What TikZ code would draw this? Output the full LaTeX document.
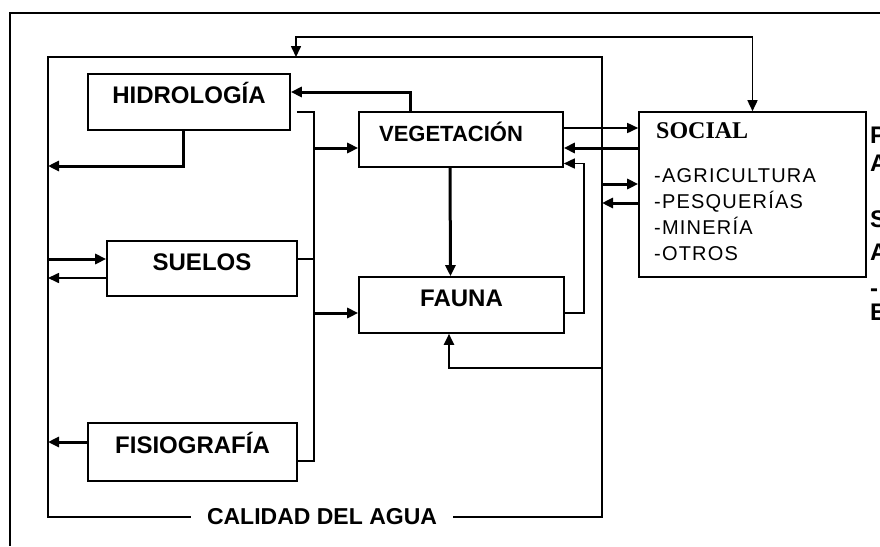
\documentclass[tikz,border=0pt]{standalone}
\usepackage{fontspec}
\setmainfont{Liberation Sans}
\newfontfamily\socfont{Liberation Serif}
\usetikzlibrary{arrows.meta}

\tikzset{
  >={Triangle[length=11pt,width=10pt]},
  box/.style={draw, line width=1.6pt, inner sep=0pt, text height=17pt, text depth=14pt,
    font=\bfseries\fontsize{24}{28}\selectfont},
  wire/.style={line width=1.6pt},
  link/.style={line width=1.6pt, ->},
  heavy/.style={line width=3pt, ->},
  cut/.style={anchor=base west, inner sep=0pt, font=\bfseries\fontsize{24}{28}\selectfont},
}

\begin{document}
\begin{tikzpicture}[x=1pt,y=-1pt] % water quality scheme

\useasboundingbox (0,0) rectangle (880,546);
\draw[line width=1.5pt] (880,13) -- (10,13) -- (10,546); % page frame

% blocks
\node[box, minimum width=202pt, minimum height=56pt] (hid) at (189,102) {HIDROLOGÍA};
\node[box, minimum width=190pt, minimum height=55pt] (sue) at (202,268.5) {SUELOS};
\node[box, minimum width=209pt, minimum height=58pt] (fis) at (192.5,452) {FISIOGRAFÍA};
\node[box, minimum width=204pt, minimum height=55pt, font=\bfseries\fontsize{22}{26}\selectfont] (veg) at (461,139.5) {VEGETACIÓN\hspace*{20pt}};
\node[box, minimum width=205pt, minimum height=56pt] (fau) at (461.5,305) {FAUNA};
\node[draw, line width=1.6pt, minimum width=227pt, minimum height=165pt] (soc) at (752.5,194.5) {};
\node[anchor=base west, inner sep=0pt, font=\socfont\bfseries\fontsize{24}{26}\selectfont] (socT) at (656,138) {SOCIAL};
\foreach \txt [count=\i] in {AGRICULTURA,PESQUERÍAS,MINERÍA,OTROS}
  \node[anchor=base west, inner sep=0pt, font=\addfontfeature{LetterSpace=6}\fontsize{20}{22}\selectfont] (soc\i) at (654,156+26*\i) {-\txt};

% water quality frame
\coordinate (fNW) at (48,57);
\coordinate (fNE) at (602,57);
\node[inner xsep=16pt, inner ysep=0pt, font=\bfseries\fontsize{23}{26}\selectfont] (cal) at (322,517) {CALIDAD DEL AGUA};
\draw[wire] (cal.west) -- (fNW |- cal.west) -- (fNW) -- (fNE) -- (fNE |- cal.east) -- (cal.east);

% links
\coordinate (ftop) at (296,57);
\draw[wire, <->] (ftop) -- ++(0,-20) -| (soc.north);
\draw[heavy] ([xshift=-51pt]veg.north) |- ([yshift=10pt]hid.east);
\coordinate (hL) at (48,166);
\draw[heavy] ([xshift=-6pt]hid.south) |- (hL);
\coordinate (busT) at (314,112);
\coordinate (busB) at (314,461);
\draw[wire] ([xshift=6pt,yshift=-10pt]hid.east) -- (busT) -- (busB) -- (busB -| fis.east);
\draw[wire] ([yshift=9.5pt]sue.east) -- ([yshift=9.5pt]sue.east -| busT);
\draw[heavy] ([yshift=-8.5pt]veg.west -| busT) -- ([yshift=-8.5pt]veg.west);
\draw[heavy] ([yshift=-8pt]fau.west -| busT) -- ([yshift=-8pt]fau.west);
\draw[heavy] ([yshift=9.5pt]sue.west -| fNW) -- ([yshift=9.5pt]sue.west);
\draw[link] ([yshift=-9.5pt]sue.west) -- ([yshift=-9.5pt]sue.west -| fNW);
\draw[heavy] ([yshift=10pt]fis.west) -- ([yshift=10pt]fis.west -| fNW);
\draw[heavy] ([xshift=-11pt]veg.south) -- ([xshift=-11pt]fau.north);
\draw[link] ([yshift=-8pt]fau.east) -- ++(19,0) |- ([yshift=-24pt]veg.east);
\coordinate (fR) at (602,368);
\draw[link, line width=2pt] (fR) -| ([xshift=-12.5pt]fau.south);
\draw[link] ([yshift=11.5pt]veg.east) -- ([yshift=11.5pt]veg.east -| soc.west);
\draw[heavy] ([yshift=46.5pt]soc.west) -- ([yshift=46.5pt]soc.west -| veg.east);
\draw[heavy] ([yshift=10.5pt]soc.west -| fNE) -- ([yshift=10.5pt]soc.west);
\draw[heavy] ([yshift=-8.5pt]soc.west) -- ([yshift=-8.5pt]soc.west -| fNE);

% text cut off at the right edge
\foreach \ch/\yy [count=\i] in {P/143,A/171,S/227,A/260,-/296,E/320}
  \node[cut] (cut\i) at (870,\yy) {\ch};

\end{tikzpicture}
\end{document}
